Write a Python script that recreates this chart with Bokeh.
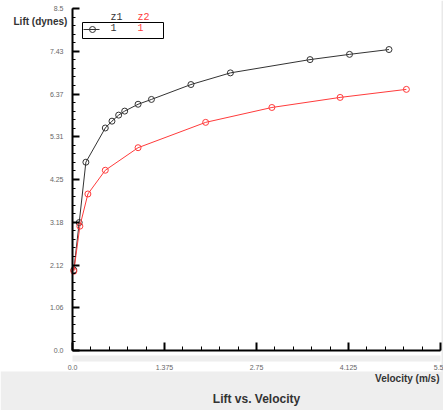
from bokeh.plotting import figure
from bokeh.models import Range1d, FixedTicker, LinearAxis, Label
from bokeh.embed import file_html
from bokeh.resources import INLINE
from bokeh.core.properties import value

# ---- data ----
z1_velocity = [0.02, 0.10, 0.20, 0.49, 0.59, 0.69, 0.78, 0.98, 1.18, 1.77, 2.36, 3.55, 4.14, 4.73]
z1_lift = [2.00, 3.18, 4.68, 5.53, 5.70, 5.85, 5.95, 6.12, 6.24, 6.61, 6.90, 7.23, 7.36, 7.48]
z2_velocity = [0.02, 0.11, 0.23, 0.49, 0.98, 1.99, 2.98, 4.00, 4.99]
z2_lift = [1.97, 3.09, 3.89, 4.48, 5.04, 5.67, 6.04, 6.29, 6.49]

x_ticks = [0.0, 1.375, 2.75, 4.125, 5.5]
x_tick_labels = ["0.0", "1.375", "2.75", "4.125", "5.5"]
y_ticks = [0.0, 1.0625, 2.125, 3.1875, 4.25, 5.3125, 6.375, 7.4375, 8.5]
y_tick_labels = ["0.0", "1.06", "2.12", "3.18", "4.25", "5.31", "6.37", "7.43", "8.5"]
x_minor = [i * 0.275 for i in range(21)]
y_minor = [i * 0.2125 for i in range(41)]

series_names = ["z1", "z2"]
series_values = ["1", "1"]
title_text = "Lift vs. Velocity"
x_title = "Velocity (m/s)"
y_title = "Lift (dynes)"

X_MAX, Y_MAX = 5.5, 8.5
black = "#333333"
red = "#ff3b3b"
FONT = "Liberation Sans"
W, H = 443, 410

# pixel layout of the plotting area (left/right/top/bottom of the axes)
AX_L, AX_R, AX_T, AX_B = 72, 440, 8, 350
PX_X = (AX_R - AX_L) / X_MAX
PX_Y = (AX_B - AX_T) / Y_MAX


def dx(px):
    return (px - AX_L) / PX_X


def dy(py):
    return (AX_B - py) / PX_Y


p = figure(width=W, height=H, x_range=Range1d(dx(0), dx(W)), y_range=Range1d(dy(H), dy(0)),
           output_backend="svg", toolbar_location=None,
           x_axis_type=None, y_axis_type=None,
           min_border=0, min_border_left=0, min_border_right=0, min_border_top=0, min_border_bottom=0)
p.background_fill_color = "white"
p.border_fill_color = "white"
p.outline_line_color = None

# background decorations: grey band under x axis, bottom grey strip, right grey edge
p.quad(left=[0], right=[X_MAX], top=[dy(355)], bottom=[dy(361)], fill_color="#eeeeee", line_color=None)
p.quad(left=[dx(0)], right=[dx(W)], top=[dy(371)], bottom=[dy(H)], fill_color="#eeeeee", line_color=None)
p.quad(left=[dx(441)], right=[dx(W)], top=[dy(0)], bottom=[dy(371)], fill_color="#e9e9e9", line_color=None)

# y axis
yax = LinearAxis(ticker=FixedTicker(ticks=y_ticks, minor_ticks=y_minor),
                 major_label_overrides=dict(zip(y_ticks, y_tick_labels)),
                 fixed_location=0, bounds=(0, Y_MAX))
yax.axis_line_width = 2
yax.axis_line_color = "black"
yax.major_tick_in = 7
yax.major_tick_out = 0
yax.major_tick_line_width = 2
yax.minor_tick_in = 3
yax.minor_tick_out = 0
yax.minor_tick_line_width = 1
yax.major_label_text_font_size = "7px"
yax.major_label_text_color = "#666666"
yax.major_label_text_font = FONT
yax.major_label_standoff = 9
p.add_layout(yax, "left")

# x axis
xax = LinearAxis(ticker=FixedTicker(ticks=x_ticks, minor_ticks=x_minor),
                 major_label_overrides=dict(zip(x_ticks, x_tick_labels)),
                 fixed_location=0, bounds=(0, X_MAX))
xax.axis_line_width = 2
xax.axis_line_color = "black"
xax.major_tick_in = 8
xax.major_tick_out = 0
xax.major_tick_line_width = 2
xax.minor_tick_in = 4
xax.minor_tick_out = 0
xax.minor_tick_line_width = 1
xax.major_label_text_font_size = "7px"
xax.major_label_text_color = "#666666"
xax.major_label_text_font = FONT
xax.major_label_standoff = 14
p.add_layout(xax, "below")

# series
p.line(z1_velocity, z1_lift, line_color=black, line_width=1)
p.scatter(z1_velocity, z1_lift, marker="circle", size=6, fill_color=None, line_color=black, line_width=1)
p.line(z2_velocity, z2_lift, line_color=red, line_width=1)
p.scatter(z2_velocity, z2_lift, marker="circle", size=6, fill_color=None, line_color=red, line_width=1)

# legend (custom box)
p.quad(left=[dx(82)], right=[dx(163)], top=[dy(22)], bottom=[dy(38)],
       fill_color="white", line_color="black", line_width=1)
p.line([dx(83), dx(99)], [dy(29), dy(29)], line_color=black, line_width=1)
p.scatter([dx(92)], [dy(29)], marker="circle", size=6, fill_color=None, line_color=black)
for name, val, px, col in zip(series_names, series_values, [110, 137], [black, red]):
    p.text(x=[dx(px)], y=[dy(17)], text=[name], text_align="left", text_baseline="middle",
           text_font=value("Liberation Mono"), text_font_size="10px", text_color=col)
    p.text(x=[dx(px)], y=[dy(27)], text=[val], text_align="left", text_baseline="middle",
           text_font=value("Liberation Mono"), text_font_size="10px", text_color=col)

# titles
p.add_layout(Label(x=dx(13), y=dy(21), text=y_title, text_align="left", text_baseline="middle",
                   text_font=FONT, text_font_size="10px", text_font_style="bold", text_color="#333333"))
p.add_layout(Label(x=dx(439), y=dy(378), text=x_title, text_align="right", text_baseline="middle",
                   text_font=FONT, text_font_size="10px", text_font_style="bold", text_color="#333333"))
p.add_layout(Label(x=dx(256), y=dy(398), text=title_text, text_align="center", text_baseline="middle",
                   text_font=FONT, text_font_size="12px", text_font_style="bold", text_color="#333333"))

open("out.html", "w").write(file_html(p, INLINE))
